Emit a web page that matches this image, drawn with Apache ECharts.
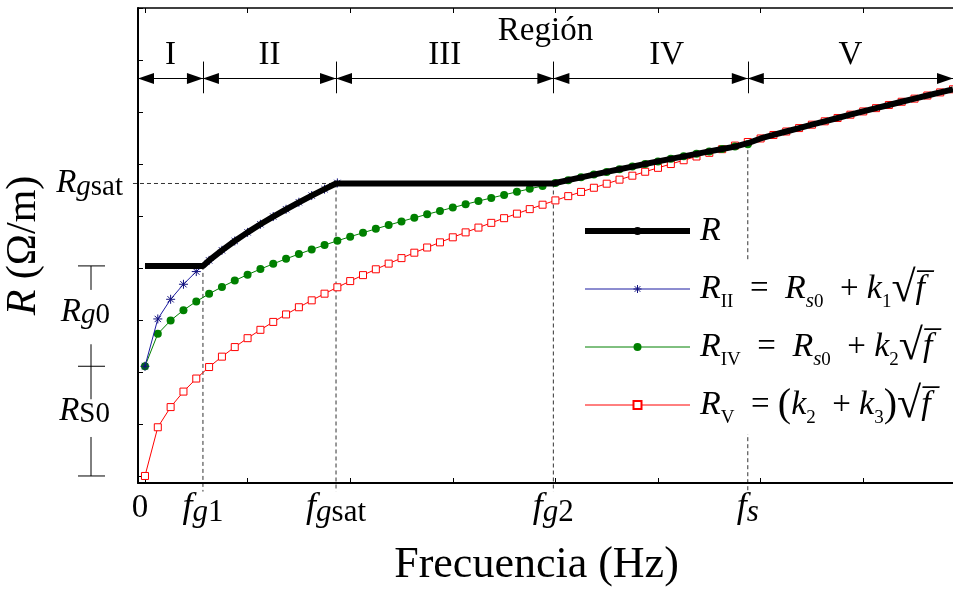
<!DOCTYPE html>
<html>
<head>
<meta charset="UTF-8">
<script src="https://cdn.jsdelivr.net/npm/echarts@6/dist/echarts.min.js"></script>
<style>
  html, body { margin: 0; background: #fff; }
  #main { width: 953px; height: 592px; }
</style>
</head>
<body>
<div id="main"></div>
<script>
// sample positions along frequency (one tick = 1 unit)
var freqX = [0, 0.125, 0.25, 0.375, 0.5, 0.625, 0.75, 0.875, 1, 1.125, 1.25, 1.375, 1.5, 1.625, 1.75, 1.875,
  2, 2.125, 2.25, 2.375, 2.5, 2.625, 2.75, 2.875, 3, 3.125, 3.25, 3.375, 3.5, 3.625, 3.75, 3.875,
  4, 4.125, 4.25, 4.375, 4.5, 4.625, 4.75, 4.875, 5, 5.125, 5.25, 5.375, 5.5, 5.625, 5.75, 5.875,
  6, 6.125, 6.25, 6.375, 6.5, 6.625, 6.75, 6.875, 7, 7.125, 7.25, 7.375, 7.5, 7.625, 7.75, 7.875];

// R_II (blue, asterisks) up to f_gsat
var rIIY = [2.11, 3.02, 3.398, 3.687, 3.931, 4.146, 4.34, 4.519, 4.685, 4.841, 4.989, 5.129, 5.264, 5.393, 5.516, 5.636];

// R_IV (green, dots) up to f_s
var rIVY = [2.11, 2.733, 2.991, 3.189, 3.356, 3.503, 3.636, 3.758, 3.872, 3.979, 4.08, 4.176, 4.268, 4.356, 4.441, 4.523,
  4.602, 4.678, 4.753, 4.825, 4.896, 4.965, 5.032, 5.098, 5.162, 5.225, 5.287, 5.347, 5.406, 5.465, 5.522, 5.578,
  5.634, 5.689, 5.743, 5.796, 5.848, 5.899, 5.95, 6.0, 6.05, 6.099, 6.147, 6.195, 6.242, 6.289, 6.335, 6.381];

// R_V (red, squares) whole range
var rVY = [0, 0.937, 1.325, 1.623, 1.874, 2.095, 2.295, 2.479, 2.65, 2.811, 2.963, 3.107, 3.245, 3.378, 3.506, 3.629,
  3.748, 3.863, 3.975, 4.084, 4.19, 4.294, 4.394, 4.493, 4.59, 4.685, 4.777, 4.868, 4.958, 5.045, 5.132, 5.217,
  5.3, 5.382, 5.463, 5.543, 5.621, 5.699, 5.775, 5.851, 5.926, 5.999, 6.072, 6.144, 6.215, 6.285, 6.354, 6.423,
  6.491, 6.558, 6.625, 6.691, 6.756, 6.821, 6.885, 6.948, 7.011, 7.074, 7.135, 7.197, 7.257, 7.317, 7.377, 7.436];

// R (thick black)
var rX = [0, 0.565, 0.625, 0.75, 0.875, 1, 1.125, 1.25, 1.375, 1.5, 1.625, 1.75, 1.862, 3.98,
  4, 4.125, 4.25, 4.375, 4.5, 4.625, 4.75, 4.875, 5, 5.125, 5.25, 5.375, 5.5, 5.625, 5.75, 5.875,
  6, 6.125, 6.25, 6.375, 6.5, 6.625, 6.75, 6.875, 7, 7.125, 7.25, 7.375, 7.5, 7.625, 7.75, 7.875];
var rY = [4.04, 4.04, 4.146, 4.34, 4.519, 4.685, 4.841, 4.989, 5.129, 5.264, 5.393, 5.516, 5.625, 5.625,
  5.634, 5.689, 5.743, 5.796, 5.848, 5.899, 5.95, 6.0, 6.05, 6.099, 6.147, 6.195, 6.242, 6.289, 6.335, 6.40,
  6.491, 6.558, 6.625, 6.691, 6.756, 6.821, 6.885, 6.948, 7.011, 7.074, 7.135, 7.197, 7.257, 7.317, 7.377, 7.436];

// characteristic frequencies and levels
var fG1 = 0.565, fGsat = 1.862, fG2 = 3.98, fS = 5.875;
var rS0 = 2.11, rG0 = 4.04, rGsat = 5.625, rFs = 6.40;
var xMin = -0.068, xMax = 7.875, yMin = -0.135, yMax = 9;

var xTickVals = [0, 1, 2, 3, 4, 5, 6, 7];
var yTickVals = [0, 1, 2, 3, 4, 5, 6, 7, 8, 9];
var xLabelVals = [0, fG1, fGsat, fG2, fS];
var xLabelText = ['{rm|0}', '{it|f}{subit|g}{sub|1}', '{it|f}{subit|g}{sub|sat}', '{it|f}{subit|g}{sub|2}', '{it|f}{subit|s}'];
var yLabelVals = [rGsat, 3.15, 1.25];
var yLabelText = ['{it|R}{subit|g}{sub|sat}', '{it|R}{subit|g}{sub|0}{gap| }', '{it|R}{sub|S0}{gap| }'];

var regionNames = ['I', 'II', 'III', 'IV', 'V'];
var regionBounds = [xMin, fG1, fGsat, fG2, fS, xMax];
var yArrow = 7.645, yBarLo = 7.36, yBarHi = 7.97;

var FONT = 'Liberation Serif';

function pairs(xs, ys) {
  return ys.map(function (y, i) { return [xs[i], y]; });
}
function lookup(vals, texts) {
  return function (v) {
    for (var i = 0; i < vals.length; i++) {
      if (Math.abs(vals[i] - v) < 1e-6) return texts[i];
    }
    return '';
  };
}

var legendText = {
  'R': '{it|R}',
  'RII': '{it|R}{sub|II}{op|  =  }{it|R}{subit|s}{sub|0}{op|  + }{it|k}{sub|1}{sq|√}{it|f\u0305}',
  'RIV': '{it|R}{sub|IV}{op|  =  }{it|R}{subit|s}{sub|0}{op|  + }{it|k}{sub|2}{sq|√}{it|f\u0305}',
  'RV': '{it|R}{sub|V}{op|  = }{par|(}{it|k}{sub|2}{op|  + }{it|k}{sub|3}{par|)}{sq|√}{it|f\u0305}'
};

var arrowData = [], barData = [];
regionNames.forEach(function (n, i) {
  var item = [{ coord: [regionBounds[i], yArrow], name: n }, { coord: [regionBounds[i + 1], yArrow] }];
  if (n === 'IV') item[0].label = { padding: [0, 0, 0, 32] };
  arrowData.push(item);
});
[fG1, fGsat, fG2, fS].forEach(function (f) {
  barData.push([{ coord: [f, yBarLo], symbol: 'none', label: { show: false } },
                { coord: [f, yBarHi], symbol: 'none' }]);
});

var chart = echarts.init(document.getElementById('main'));

var richLabel = {
  rm: { fontFamily: FONT, fontSize: 33, lineHeight: 40, color: '#000', padding: [0, 10, 0, 0] },
  it: { fontFamily: FONT, fontSize: 36, fontStyle: 'italic', lineHeight: 40, color: '#000' },
  sub: { fontFamily: FONT, fontSize: 31, lineHeight: 18, verticalAlign: 'bottom', color: '#000' },
  subit: { fontFamily: FONT, fontSize: 31, fontStyle: 'italic', lineHeight: 18, verticalAlign: 'bottom', color: '#000' }
};
var richY = {
  it: { fontFamily: FONT, fontSize: 33, fontStyle: 'italic', lineHeight: 36, color: '#000' },
  sub: { fontFamily: FONT, fontSize: 29, lineHeight: 18, verticalAlign: 'bottom', color: '#000' },
  subit: { fontFamily: FONT, fontSize: 29, fontStyle: 'italic', lineHeight: 18, verticalAlign: 'bottom', color: '#000' },
  gap: { width: 13 }
};
var asterisk = 'path://M5,0L5,10M0,5L10,5M1.5,1.5L8.5,8.5M1.5,8.5L8.5,1.5';

var option = {
  animation: false,
  backgroundColor: '#fff',
  grid: { left: 138, right: 0, top: 8, bottom: 109, containLabel: false, outerBoundsMode: 'none' },
  legend: {
    data: [
      { name: 'R', lineStyle: { width: 6, color: '#000' } },
      { name: 'RII', itemStyle: { color: 'rgba(0,0,0,0)', borderColor: '#10107e', borderWidth: 1 }, lineStyle: { width: 1 } },
      { name: 'RIV', lineStyle: { width: 1 } },
      { name: 'RV', lineStyle: { width: 1 } }
    ],
    orient: 'vertical',
    left: 582,
    top: 202,
    padding: 0,
    itemGap: 0,
    itemWidth: 105,
    itemHeight: 10,
    selectedMode: false,
    formatter: function (name) { return legendText[name]; },
    textStyle: {
      fontFamily: FONT, fontSize: 33, color: '#000',
      lineHeight: 46, padding: [6, 0, 6, 5], backgroundColor: '#fff',
      rich: {
        it: { fontFamily: FONT, fontSize: 34, fontStyle: 'italic', lineHeight: 46 },
        op: { fontFamily: FONT, fontSize: 33, lineHeight: 46 },
        par: { fontFamily: FONT, fontSize: 40, lineHeight: 46 },
        sub: { fontFamily: FONT, fontSize: 19, lineHeight: 30, verticalAlign: 'bottom' },
        subit: { fontFamily: FONT, fontSize: 21, fontStyle: 'italic', lineHeight: 30, verticalAlign: 'bottom' },
        sq: { fontFamily: FONT, fontSize: 44, lineHeight: 46 }
      }
    }
  },
  xAxis: [{
    type: 'value', min: xMin, max: xMax, position: 'bottom',
    name: 'Frecuencia (Hz)', nameLocation: 'middle', nameGap: 60,
    nameTextStyle: { fontFamily: FONT, fontSize: 44, color: '#000', padding: [0, 18, 0, 0] },
    axisLine: { onZero: false, lineStyle: { color: '#000', width: 2 } },
    axisTick: { inside: true, length: 5, customValues: xTickVals, lineStyle: { color: '#000', width: 1 } },
    axisLabel: {
      show: true, customValues: xLabelVals, margin: 5,
      formatter: lookup(xLabelVals, xLabelText),
      rich: richLabel
    },
    splitLine: { show: false }
  }, {
    type: 'value', min: xMin, max: xMax, position: 'top',
    name: 'Región', nameLocation: 'middle', nameGap: -40,
    nameTextStyle: { fontFamily: FONT, fontSize: 33, color: '#000' },
    axisLine: { onZero: false, lineStyle: { color: '#000', width: 1.5 } },
    axisTick: { inside: true, length: 5, customValues: xTickVals, lineStyle: { color: '#000', width: 1 } },
    axisLabel: { show: false },
    splitLine: { show: false }
  }],
  yAxis: [{
    type: 'value', min: yMin, max: yMax,
    name: '{it|R} (Ω/m)', nameLocation: 'middle', nameRotate: 90, nameGap: 86,
    nameTextStyle: {
      fontFamily: FONT, fontSize: 42, color: '#000',
      rich: { it: { fontFamily: FONT, fontSize: 42, fontStyle: 'italic', color: '#000' } }
    },
    axisLine: { onZero: false, lineStyle: { color: '#000', width: 2 } },
    axisTick: { inside: true, length: 5, customValues: yTickVals, lineStyle: { color: '#000', width: 1 } },
    axisLabel: {
      show: true, customValues: yLabelVals, margin: 15,
      formatter: lookup(yLabelVals, yLabelText),
      rich: richY
    },
    splitLine: { show: false }
  }],
  series: [{
    name: 'RV', type: 'line', z: 2,
    data: pairs(freqX, rVY),
    symbol: 'rect', symbolSize: 7,
    itemStyle: { color: '#fff', borderColor: '#ff0000', borderWidth: 1 },
    lineStyle: { color: '#ff0000', width: 1 }
  }, {
    name: 'RIV', type: 'line', z: 3,
    data: pairs(freqX, rIVY),
    symbol: 'circle', symbolSize: 8,
    itemStyle: { color: '#008000' },
    lineStyle: { color: '#008000', width: 1 }
  }, {
    name: 'RII', type: 'line', z: 4,
    data: pairs(freqX, rIIY),
    symbol: asterisk, symbolSize: 9,
    itemStyle: { color: 'rgba(0,0,0,0)', borderColor: '#10107e', borderWidth: 1 },
    lineStyle: { color: '#1a1aa0', width: 1 }
  }, {
    name: 'R', type: 'line', z: 5,
    data: pairs(rX, rY),
    symbol: 'none',
    itemStyle: { color: '#000' },
    lineStyle: { color: '#000', width: 6, join: 'round', cap: 'butt' }
  }, {
    name: 'regions', type: 'line', data: [], z: 1, silent: true,
    markLine: {
      silent: true, animation: false,
      symbol: ['triangle', 'triangle'], symbolSize: [11, 16], symbolOffset: [[0, 8], [0, 8]],
      lineStyle: { color: '#000', width: 1, type: 'solid' },
      label: {
        show: true, position: 'insideMiddleTop', distance: 7,
        formatter: function (p) { return p.name; },
        fontFamily: FONT, fontSize: 33, color: '#000'
      },
      emphasis: { disabled: true },
      data: arrowData.concat(barData)
    }
  }]
};
chart.setOption(option);

// dashed guide lines and left brackets, placed through the axis scales
function px(x, y) { return chart.convertToPixel({ xAxisIndex: 0, yAxisIndex: 0 }, [x, y]); }
var dashStyle = { stroke: '#333', lineWidth: 1, lineDash: [4, 3] };
var solid = { stroke: '#000', lineWidth: 1 };
var g = [];
[[fG1, rG0], [fGsat, rGsat], [fG2, rGsat], [fS, rFs]].forEach(function (d) {
  var a = px(d[0], d[1]), b = px(d[0], -0.3);
  g.push({ type: 'line', z: 0, shape: { x1: a[0], y1: a[1], x2: b[0], y2: b[1] }, style: dashStyle });
});
var h1 = px(-0.117, rGsat), h2 = px(fGsat, rGsat);
g.push({ type: 'line', z: 0, shape: { x1: h1[0], y1: h1[1], x2: h2[0], y2: h2[1] }, style: dashStyle });

var yg0 = px(0, rG0)[1], ys0 = px(0, rS0)[1], yz = px(0, 0)[1];
var bx = 91;
[[yg0, yg0 + 24], [ys0 - 22, ys0 + 33], [yz - 39, yz]].forEach(function (s) {
  g.push({ type: 'line', shape: { x1: bx, y1: s[0], x2: bx, y2: s[1] }, style: solid });
});
[yg0, ys0, yz].forEach(function (y) {
  g.push({ type: 'line', shape: { x1: 78, y1: y, x2: 105, y2: y }, style: solid });
});
chart.setOption({ graphic: g });
</script>
</body>
</html>
